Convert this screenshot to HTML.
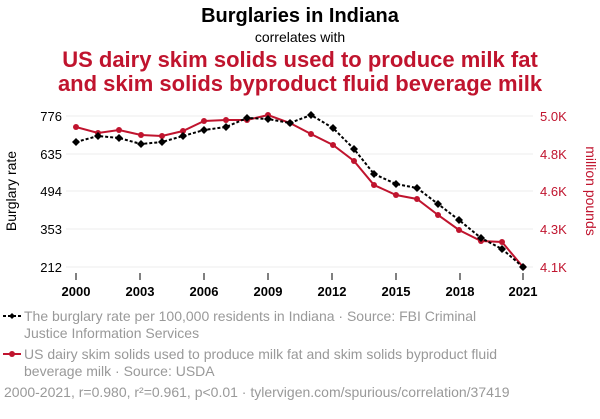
<!DOCTYPE html>
<html><head><meta charset="utf-8"><style>
body{margin:0;width:600px;height:414px;background:#fff;font-family:"Liberation Sans",sans-serif;overflow:hidden}
</style></head><body>
<svg width="600" height="414" xmlns="http://www.w3.org/2000/svg" font-family="Liberation Sans, sans-serif">
<text x="300" y="22" text-anchor="middle" font-size="20" font-weight="bold" fill="#000">Burglaries in Indiana</text>
<text x="300" y="42" text-anchor="middle" font-size="14" fill="#000">correlates with</text>
<text x="300" y="67" text-anchor="middle" font-size="22" font-weight="bold" fill="#c0142e">US dairy skim solids used to produce milk fat</text>
<text x="300" y="91" text-anchor="middle" font-size="22" font-weight="bold" fill="#c0142e">and skim solids byproduct fluid beverage milk</text>
<g stroke="#eee" stroke-width="1">
<line x1="66" x2="533" y1="116" y2="116"/><line x1="66" x2="533" y1="154" y2="154"/><line x1="66" x2="533" y1="191" y2="191"/><line x1="66" x2="533" y1="229" y2="229"/><line x1="66" x2="533" y1="267" y2="267"/>
</g>
<g font-size="13" fill="#000" text-anchor="end">
<text x="62" y="121">776</text><text x="62" y="159">635</text><text x="62" y="196">494</text><text x="62" y="234">353</text><text x="62" y="272">212</text>
</g>
<g font-size="13" fill="#c0142e">
<text x="540" y="121">5.0K</text><text x="540" y="159">4.8K</text><text x="540" y="196">4.6K</text><text x="540" y="234">4.3K</text><text x="540" y="272">4.1K</text>
</g>
<text transform="translate(16,191) rotate(-90)" text-anchor="middle" font-size="14" fill="#000">Burglary rate</text>
<text transform="translate(586,191) rotate(90)" text-anchor="middle" font-size="14" fill="#c0142e">million pounds</text>
<g stroke="#000" stroke-width="1">
<line x1="76" x2="76" y1="273" y2="280"/><line x1="140" x2="140" y1="273" y2="280"/><line x1="204" x2="204" y1="273" y2="280"/><line x1="268" x2="268" y1="273" y2="280"/><line x1="332" x2="332" y1="273" y2="280"/><line x1="396" x2="396" y1="273" y2="280"/><line x1="460" x2="460" y1="273" y2="280"/><line x1="523" x2="523" y1="273" y2="280"/>
</g>
<g font-size="13" font-weight="bold" fill="#000" text-anchor="middle">
<text x="76" y="296">2000</text><text x="140" y="296">2003</text><text x="204" y="296">2006</text><text x="268" y="296">2009</text><text x="332" y="296">2012</text><text x="396" y="296">2015</text><text x="460" y="296">2018</text><text x="523" y="296">2021</text>
</g>
<polyline fill="none" stroke="#c0142e" stroke-width="2" points="76,127 98,133 119,130 141,135 162,136 183,131 204,121 226,120 247,120 268,115 290,123 311,134 333,145 354,161 374,185 396,195 417,199 438,215 459,230 481,241 502,242 523,267"/>
<g fill="#c0142e">
<circle cx="76" cy="127" r="3"/><circle cx="98" cy="133" r="3"/><circle cx="119" cy="130" r="3"/><circle cx="141" cy="135" r="3"/><circle cx="162" cy="136" r="3"/><circle cx="183" cy="131" r="3"/><circle cx="204" cy="121" r="3"/><circle cx="226" cy="120" r="3"/><circle cx="247" cy="120" r="3"/><circle cx="268" cy="115" r="3"/><circle cx="290" cy="123" r="3"/><circle cx="311" cy="134" r="3"/><circle cx="333" cy="145" r="3"/><circle cx="354" cy="161" r="3"/><circle cx="374" cy="185" r="3"/><circle cx="396" cy="195" r="3"/><circle cx="417" cy="199" r="3"/><circle cx="438" cy="215" r="3"/><circle cx="459" cy="230" r="3"/><circle cx="481" cy="241" r="3"/><circle cx="502" cy="242" r="3"/><circle cx="523" cy="267" r="3"/>
</g>
<polyline fill="none" stroke="#000" stroke-width="2" stroke-dasharray="3,2" points="76,142 98,136 119,138 141,144 162,142 183,136 204,130 226,127 247,118 268,119 290,123 311,115 333,128 354,149 374,174 396,184 417,188 438,204 459,220 481,238 502,249 523,267"/>
<g fill="#000">
<path d="M76,138l4,4l-4,4l-4,-4z"/><path d="M98,132l4,4l-4,4l-4,-4z"/><path d="M119,134l4,4l-4,4l-4,-4z"/><path d="M141,140l4,4l-4,4l-4,-4z"/><path d="M162,138l4,4l-4,4l-4,-4z"/><path d="M183,132l4,4l-4,4l-4,-4z"/><path d="M204,126l4,4l-4,4l-4,-4z"/><path d="M226,123l4,4l-4,4l-4,-4z"/><path d="M247,114l4,4l-4,4l-4,-4z"/><path d="M268,115l4,4l-4,4l-4,-4z"/><path d="M290,119l4,4l-4,4l-4,-4z"/><path d="M311,111l4,4l-4,4l-4,-4z"/><path d="M333,124l4,4l-4,4l-4,-4z"/><path d="M354,145l4,4l-4,4l-4,-4z"/><path d="M374,170l4,4l-4,4l-4,-4z"/><path d="M396,180l4,4l-4,4l-4,-4z"/><path d="M417,184l4,4l-4,4l-4,-4z"/><path d="M438,200l4,4l-4,4l-4,-4z"/><path d="M459,216l4,4l-4,4l-4,-4z"/><path d="M481,234l4,4l-4,4l-4,-4z"/><path d="M502,245l4,4l-4,4l-4,-4z"/><path d="M523,263l4,4l-4,4l-4,-4z"/>
</g>
<line x1="3" x2="21" y1="316" y2="316" stroke="#000" stroke-width="2" stroke-dasharray="3,2"/>
<path d="M12,313l3,3l-3,3l-3,-3z" fill="#000"/>
<g font-size="14" fill="#999">
<text x="24" y="321">The burglary rate per 100,000 residents in Indiana · Source: FBI Criminal</text>
<text x="24" y="338">Justice Information Services</text>
<text x="24" y="359">US dairy skim solids used to produce milk fat and skim solids byproduct fluid</text>
<text x="24" y="376">beverage milk · Source: USDA</text>
<text x="4" y="397">2000-2021, r=0.980, r²=0.961, p&lt;0.01 · tylervigen.com/spurious/correlation/37419</text>
</g>
<line x1="3" x2="21" y1="354" y2="354" stroke="#c0142e" stroke-width="2"/>
<circle cx="12" cy="354" r="3" fill="#c0142e"/>
</svg>
</body></html>
